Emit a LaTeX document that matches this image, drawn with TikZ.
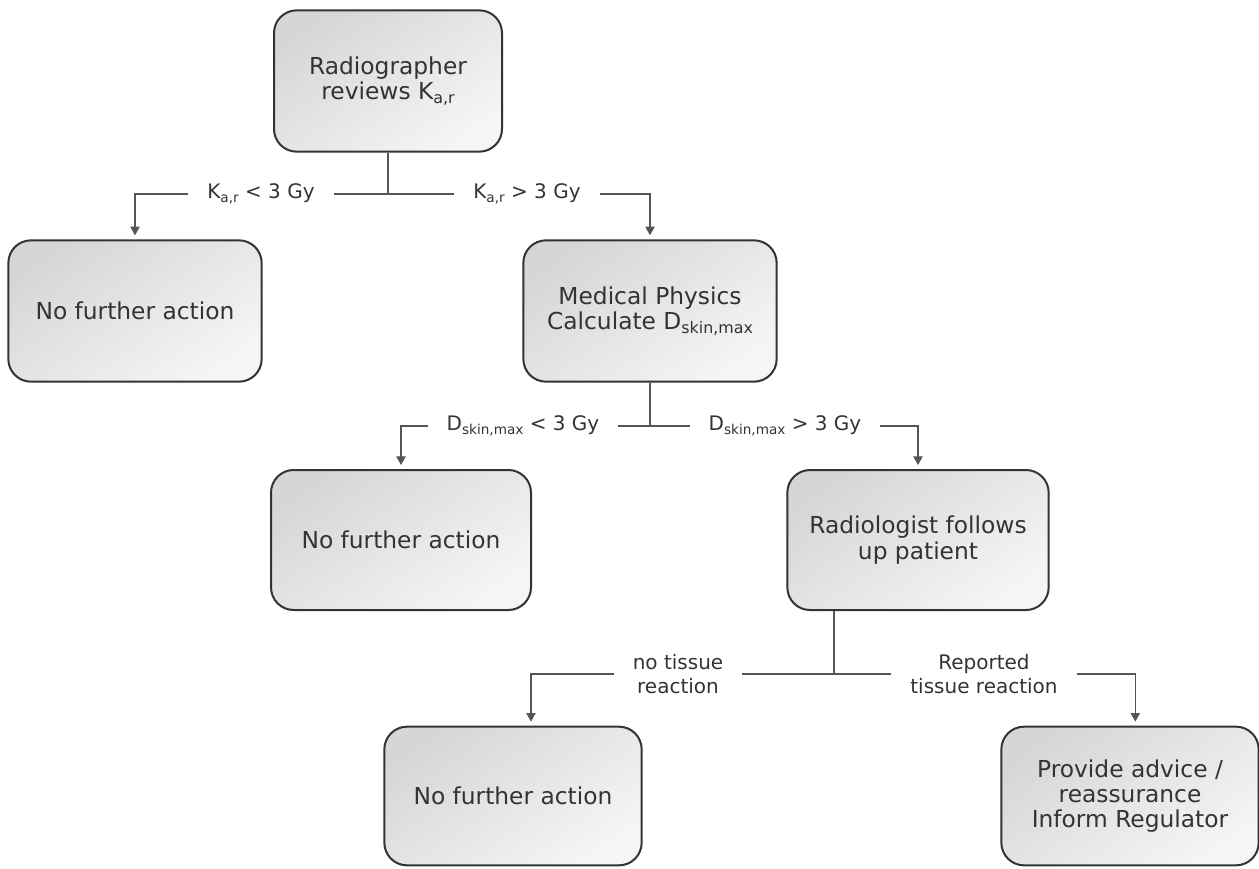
\documentclass[tikz,border=0pt]{standalone}
\usepackage{fontspec}
\setmainfont{DejaVu Sans}
\usepackage{tikz}
\usetikzlibrary{arrows.meta}
\definecolor{boxline}{HTML}{333333}
\definecolor{txt}{HTML}{333333}
\definecolor{connline}{HTML}{555555}
\newcommand{\lowtxt}[1]{\raisebox{-0.35ex}{\scalebox{0.68}{#1}}}

\begin{document}
\begin{tikzpicture}[
  x=0.75pt, y=-0.75pt,
  box/.style={draw=boxline, line width=1.5pt, rounded corners=17pt, align=center, minimum width=190pt, minimum height=106pt, text=txt, top color=black!16, bottom color=black!4, shading angle=35, font=\fontsize{17.5}{19}\selectfont},
  lbl/.style={align=center, inner xsep=14pt, text=txt, font=\fontsize{15}{18}\selectfont},
  conn/.style={draw=connline, line width=0.8pt},
  arrow/.style={conn, -{Triangle[length=6.5pt,width=7pt]}, shorten >=3pt}
]
\useasboundingbox (0,0) rectangle (1259,868);

\node[box, minimum width=171pt] (rad) at (388,81) {Radiographer\\reviews K\lowtxt{a,r}};
\coordinate (j1) at (388,194);
\node[lbl] (klo) at (261,194) {K\lowtxt{a,r} < 3 Gy};
\node[lbl] (khi) at (527,194) {K\lowtxt{a,r} > 3 Gy};
\node[box] (nfa1) at (135,311) {No further action};
\node[box] (med) at (650,311) {Medical Physics\\Calculate D\lowtxt{skin,max}};

\coordinate (j2) at (650,426);
\node[lbl] (dlo) at (523,426) {D\lowtxt{skin,max} < 3 Gy};
\node[lbl] (dhi) at (785,426) {D\lowtxt{skin,max} > 3 Gy};
\node[box, minimum width=195pt, minimum height=105pt] (nfa2) at (401,540) {No further action};
\node[box, minimum width=196pt, minimum height=105pt] (rlog) at (918,540) {Radiologist follows\\up patient};

\coordinate (j3) at (834,674);
\node[lbl] (notr) at (678,674) {no tissue\\reaction};
\node[lbl] (reptr) at (984,674) {Reported\\tissue reaction};
\node[box, minimum width=193pt, minimum height=104pt] (nfa3) at (513,796) {No further action};
\node[box, minimum width=193pt, minimum height=104pt] (adv) at (1130,796) {Provide advice /\\reassurance\\Inform Regulator};

% first split
\draw[conn] (rad) -- (j1);
\draw[conn] (j1) -- (klo);
\draw[conn] (j1) -- (khi);
\draw[arrow] (klo) -| (nfa1);
\draw[arrow] (khi) -| (med);

% second split
\draw[conn] (med) -- (j2);
\draw[conn] (j2) -- (dlo);
\draw[conn] (j2) -- (dhi);
\draw[arrow] (dlo) -| (nfa2);
\draw[arrow] (dhi) -| (rlog);

% follow up
\draw[conn] (rlog.south -| j3) -- (j3);
\draw[conn] (j3) -- (notr);
\draw[conn] (j3) -- (reptr);
\draw[arrow] (notr) -| ([xshift=13.5pt]nfa3.north);
\draw[arrow] (reptr) -| ([xshift=4pt]adv.north);

\end{tikzpicture}
\end{document}
